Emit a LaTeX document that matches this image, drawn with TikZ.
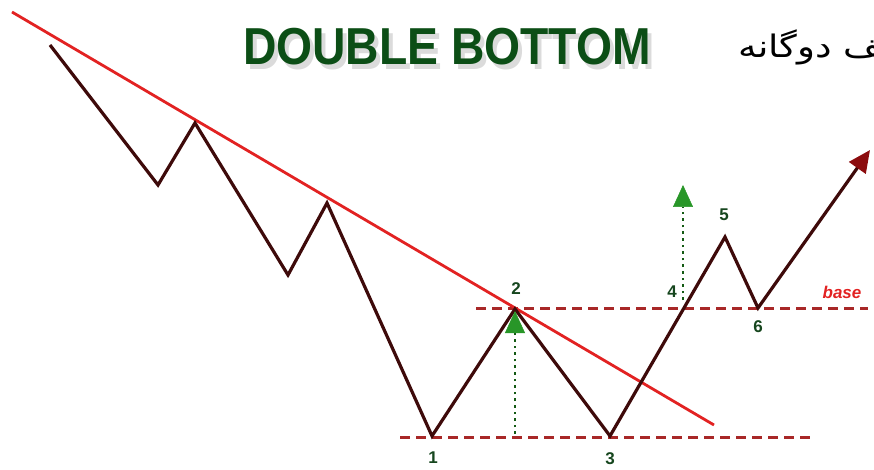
\documentclass[tikz,border=0pt]{standalone}
\usepackage{fontspec}
\setmainfont{Liberation Sans}
\newfontfamily\farsifont[Script=Arabic]{DejaVu Sans}
\TeXXeTstate=1
\usepackage{tikz}
\usetikzlibrary{arrows.meta}

\definecolor{titlegreen}{RGB}{12,78,22}
\definecolor{labelgreen}{RGB}{22,70,30}
\definecolor{trendred}{RGB}{226,34,34}
\definecolor{pricebrown}{RGB}{62,10,10}
\definecolor{tipred}{RGB}{140,12,14}
\definecolor{dashred}{RGB}{168,40,40}
\definecolor{arrowgreen}{RGB}{40,150,40}
\definecolor{dotgreen}{RGB}{20,90,20}

\begin{document}
\begin{tikzpicture}[
		x=1pt, y=-1pt,
		price/.style={
			draw=pricebrown,
			line width=3.2pt,
			line join=miter
		},
		trend/.style={
			draw=trendred,
			line width=2.8pt
		},
		level/.style={
			draw=dashred,
			line width=3pt,
			dash pattern=on 10pt off 6pt
		},
		target/.style={
			draw=dotgreen,
			line width=2.6pt,
			dash pattern=on 2.6pt off 4pt,
			-{Triangle[length=22pt,width=20pt,color=arrowgreen,fill=arrowgreen,line width=0.5pt]}
		},
		num/.style={
			font=\fontsize{17}{17}\selectfont\bfseries,
			text=labelgreen,
			inner sep=0pt
		},
		headline/.style={
			font=\fontsize{52}{52}\selectfont\bfseries,
			xscale=0.89
		}
		]
		
		\useasboundingbox (0,0) rectangle (874,470);
		\clip (0,0) rectangle (874,470);
		
		%--------------------------------------------------
		% Headings
		%--------------------------------------------------
		
		\node[headline, text=black!14] (shadow) at (451,52) {DOUBLE BOTTOM};
		\node[headline, text=titlegreen] (title) at (447,47) {DOUBLE BOTTOM};
		
		\node[anchor=base west, inner sep=0pt, xscale=1.2,
		font=\fontsize{31}{31}\farsifont]
		(farsi) at (738,58) {\beginR کف دوگانه\endR};
		
		%--------------------------------------------------
		% Points of the price path
		%--------------------------------------------------
		
		\coordinate (s0) at (50,45);
		\coordinate (v1) at (158,185);
		\coordinate (h1) at (195,123);
		\coordinate (v2) at (288,275);
		\coordinate (h2) at (327,203);
		\coordinate (p1) at (432,436);
		\coordinate (p2) at (515,309);
		\coordinate (p3) at (610,436);
		\coordinate (p5) at (725,237);
		\coordinate (p6) at (758,308);
		\coordinate (out) at (870,150);
		
		%--------------------------------------------------
		% Support, base and trend lines
		%--------------------------------------------------
		
		\coordinate (low0) at (400,437);
		\coordinate (low1) at (812,437);
		\coordinate (base0) at (476,308);
		\coordinate (base1) at (868,308);
		\coordinate (trend0) at (12,12);
		\coordinate (trend1) at (714,425);
		
		\draw[level] (low0) -- (low1);
		\draw[level] (base0) -- (base1);
		\draw[trend] (trend0) -- (trend1);
		
		%--------------------------------------------------
		% Price path
		%--------------------------------------------------
		
		\draw[price, -{Triangle[length=22pt,width=20pt,color=tipred,fill=tipred]}]
		(s0) -- (v1) -- (h1) -- (v2) -- (h2) -- (p1) -- (p2) -- (p3)
		-- (p5) -- (p6) -- (out);
		
		%--------------------------------------------------
		% Targets
		%--------------------------------------------------
		
		\coordinate (t1a) at (515,434);
		\coordinate (t1b) at (515,311);
		\coordinate (t2a) at (683,300);
		\coordinate (t2b) at (683,185);
		
		\draw[target] (t1a) -- (t1b);
		\draw[target] (t2a) -- (t2b);
		
		%--------------------------------------------------
		% Labels
		%--------------------------------------------------
		
		\node[num] (n1) at (433,458) {1};
		\node[num] (n2) at (516,289) {2};
		\node[num] (n3) at (610,459) {3};
		\node[num] (n4) at (672,292) {4};
		\node[num] (n5) at (724,215) {5};
		\node[num] (n6) at (758,327) {6};
		\node[num, text=trendred, font=\fontsize{17}{17}\selectfont\bfseries\itshape]
		(base) at (842,292) {base};
		
	\end{tikzpicture}
\end{document}
